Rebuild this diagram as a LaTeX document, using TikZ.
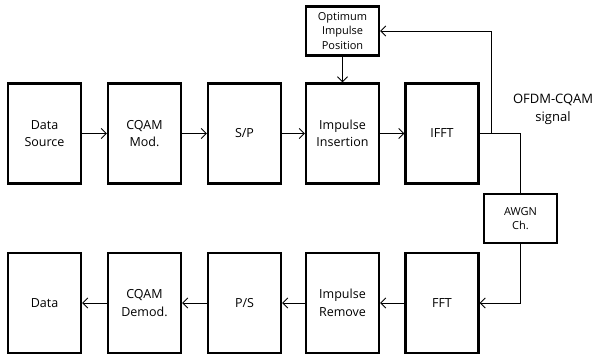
\documentclass[tikz,border=0pt]{standalone}
\usepackage{fontspec}
\setmainfont{Open Sans}
\usetikzlibrary{arrows.meta}
\begin{document}
\begin{tikzpicture}[x=1pt,y=-1pt,
  blk/.style={draw, line width=2.4pt, minimum width=73pt, minimum height=100pt, align=center, font=\fontsize{12.5}{17.5}\selectfont, inner sep=0pt},
  sblk/.style={draw, line width=2.4pt, minimum width=73pt, minimum height=49pt, align=center, font=\fontsize{11}{14.5}\selectfont, inner sep=0pt},
  conn/.style={line width=0.8pt, -{Straight Barb[length=5pt,width=10pt,line width=0.8pt]}},
  wire/.style={line width=0.8pt}]
\useasboundingbox (0,0) rectangle (597,358);
% top row
\node[blk] (ds) at (44.5,133.5) {Data\\Source};
\node[blk] (mod) at (144.5,133.5) {CQAM\\Mod.};
\node[blk] (sp) at (244.5,133.5) {S/P};
\node[blk] (ins) at (342.5,133.5) {Impulse\\Insertion};
\node[blk] (ifft) at (442,133.5) {IFFT};
\node[sblk] (opt) at (342.5,31) {Optimum\\Impulse\\Position};
\node[sblk] (awgn) at (520.5,218.5) {AWGN\\Ch.};
% bottom row
\node[blk] (data) at (44.5,303) {Data};
\node[blk] (dem) at (144.5,303) {CQAM\\Demod.};
\node[blk] (ps) at (244.5,303) {P/S};
\node[blk] (rem) at (342.5,303) {Impulse\\Remove};
\node[blk] (fft) at (442,303) {FFT};
\node[align=center, font=\fontsize{13}{18}\selectfont, inner sep=0pt] (lbl) at (553,109) {OFDM-CQAM\\signal};
% connectors
\coordinate (br) at (491,133.5);
\coordinate (cr) at (520.5,133.5);
\coordinate (cb) at (520.5,303);
\draw[conn] (ds) -- (mod);
\draw[conn] (mod) -- (sp);
\draw[conn] (sp) -- (ins);
\draw[conn] (ins) -- (ifft);
\draw[conn] (opt) -- (ins);
\draw[wire] (ifft) -- (cr) -- (awgn);
\draw[conn] (br) |- (opt);
\draw[conn] (awgn) -- (cb) -- (fft);
\draw[conn] (fft) -- (rem);
\draw[conn] (rem) -- (ps);
\draw[conn] (ps) -- (dem);
\draw[conn] (dem) -- (data);
\end{tikzpicture}
\end{document}
